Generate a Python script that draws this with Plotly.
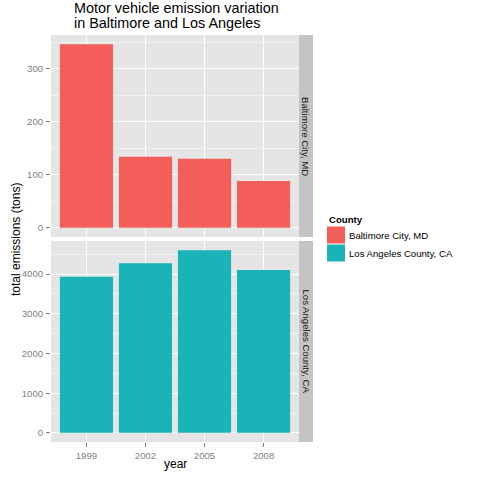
import plotly.graph_objects as go

years = ["1999", "2002", "2005", "2008"]
counties = ["Baltimore City, MD", "Los Angeles County, CA"]
baltimore = [346.82, 134.31, 130.43, 88.28]
los_angeles = [3931.12, 4274.03, 4601.41, 4101.32]
colors = ["#F35E5A", "#19B3B8"]
title_lines = ["Motor vehicle emission variation", "in Baltimore and Los Angeles"]

W = H = 480
FONT = "Liberation Sans, Arial, sans-serif"


def px_x(p):
    return p / W


def px_y(p):
    return 1 - p / H


panel_x = [px_x(51), px_x(299)]
top_dom = [px_y(237), px_y(35)]
bot_dom = [px_y(442), px_y(241)]

fig = go.Figure()
fig.add_trace(go.Bar(x=years, y=baltimore, marker=dict(color=colors[0], line=dict(width=0)),
                     name=counties[0], xaxis="x", yaxis="y", showlegend=False))
fig.add_trace(go.Bar(x=years, y=los_angeles, marker=dict(color=colors[1], line=dict(width=0)),
                     name=counties[1], xaxis="x2", yaxis="y2", showlegend=False))

tick_font = dict(family=FONT, size=9.6, color="#7F7F7F")
grid_major = "#FFFFFF"
grid_minor = "#F2F2F2"

xcommon = dict(type="category", range=[-0.6, 3.6], showgrid=True, gridcolor=grid_major,
               gridwidth=1.4, zeroline=False, showline=False, tickfont=tick_font,
               ticks="outside", ticklen=4, tickwidth=0.8, tickcolor="#7F7F7F", domain=panel_x)

top_max = max(baltimore) * 1.05
top_min = -max(baltimore) * 0.05
bot_max = max(los_angeles) * 1.05
bot_min = -max(los_angeles) * 0.05

ycommon = dict(showgrid=True, gridcolor=grid_major, gridwidth=1.4, zeroline=False,
               showline=False, tickfont=tick_font, ticks="outside", ticklen=4,
               tickwidth=0.8, tickcolor="#7F7F7F", ticklabelstandoff=1)

fig.update_layout(
    width=W, height=H,
    margin=dict(l=0, r=0, t=0, b=0),
    paper_bgcolor="white",
    plot_bgcolor="#E5E5E5",
    bargap=0.1,
    font=dict(family=FONT),
    xaxis=dict(xcommon, anchor="y", showticklabels=False, ticks=""),
    xaxis2=dict(xcommon, anchor="y2", matches="x"),
    yaxis=dict(ycommon, domain=top_dom, anchor="x", range=[top_min, top_max],
               tickvals=[0, 100, 200, 300],
               minor=dict(tickvals=[50, 150, 250, 350], showgrid=True, gridcolor=grid_minor,
                          gridwidth=0.8, ticks="")),
    yaxis2=dict(ycommon, domain=bot_dom, anchor="x2", range=[bot_min, bot_max],
                tickvals=[0, 1000, 2000, 3000, 4000],
                minor=dict(tickvals=[500, 1500, 2500, 3500, 4500], showgrid=True,
                           gridcolor=grid_minor, gridwidth=0.8, ticks="")),
)

shapes = []
annotations = []
# title (two lines)
for line, yc in zip(title_lines, [7.5, 23.5]):
    annotations.append(dict(text=line, xref="paper", yref="paper", x=px_x(72), y=px_y(yc),
                            showarrow=False, xanchor="left", yanchor="middle",
                            font=dict(family=FONT, size=14.4, color="black")))

# facet strips
for dom, label in [(top_dom, counties[0]), (bot_dom, counties[1])]:
    shapes.append(dict(type="rect", xref="paper", yref="paper", x0=px_x(299), x1=px_x(313),
                       y0=dom[0], y1=dom[1], fillcolor="#C4C4C4", line=dict(width=0), layer="below"))
    annotations.append(dict(text=label, xref="paper", yref="paper", x=px_x(306),
                            y=(dom[0] + dom[1]) / 2, showarrow=False, textangle=90,
                            font=dict(family=FONT, size=9.6, color="#1A1A1A"),
                            xanchor="center", yanchor="middle"))

# axis titles
annotations.append(dict(text="year", xref="paper", yref="paper", x=px_x(175), y=px_y(464),
                        showarrow=False, xanchor="center", yanchor="middle",
                        font=dict(family=FONT, size=12, color="black")))
annotations.append(dict(text="total emissions (tons)", xref="paper", yref="paper",
                        x=px_x(16), y=px_y(240), showarrow=False, textangle=-90,
                        xanchor="center", yanchor="middle",
                        font=dict(family=FONT, size=12, color="black")))

# legend (drawn)
annotations.append(dict(text="<b>County</b>", xref="paper", yref="paper", x=px_x(326.5),
                        y=px_y(220), showarrow=False, xanchor="left", yanchor="middle",
                        font=dict(family=FONT, size=9.6, color="black")))
key_tops = [226.5, 244.5]
for i, (label, col) in enumerate(zip(counties, colors)):
    t = key_tops[i]
    shapes.append(dict(type="rect", xref="paper", yref="paper", x0=px_x(327), x1=px_x(345),
                       y0=px_y(t + 17), y1=px_y(t), fillcolor=col, line=dict(width=0)))
    annotations.append(dict(text=label, xref="paper", yref="paper", x=px_x(346.5),
                            y=px_y(t + 8.8), showarrow=False, xanchor="left", yanchor="middle",
                            font=dict(family=FONT, size=9.6, color="black")))

fig.update_layout(shapes=shapes, annotations=annotations)
fig.write_html("out.html")
